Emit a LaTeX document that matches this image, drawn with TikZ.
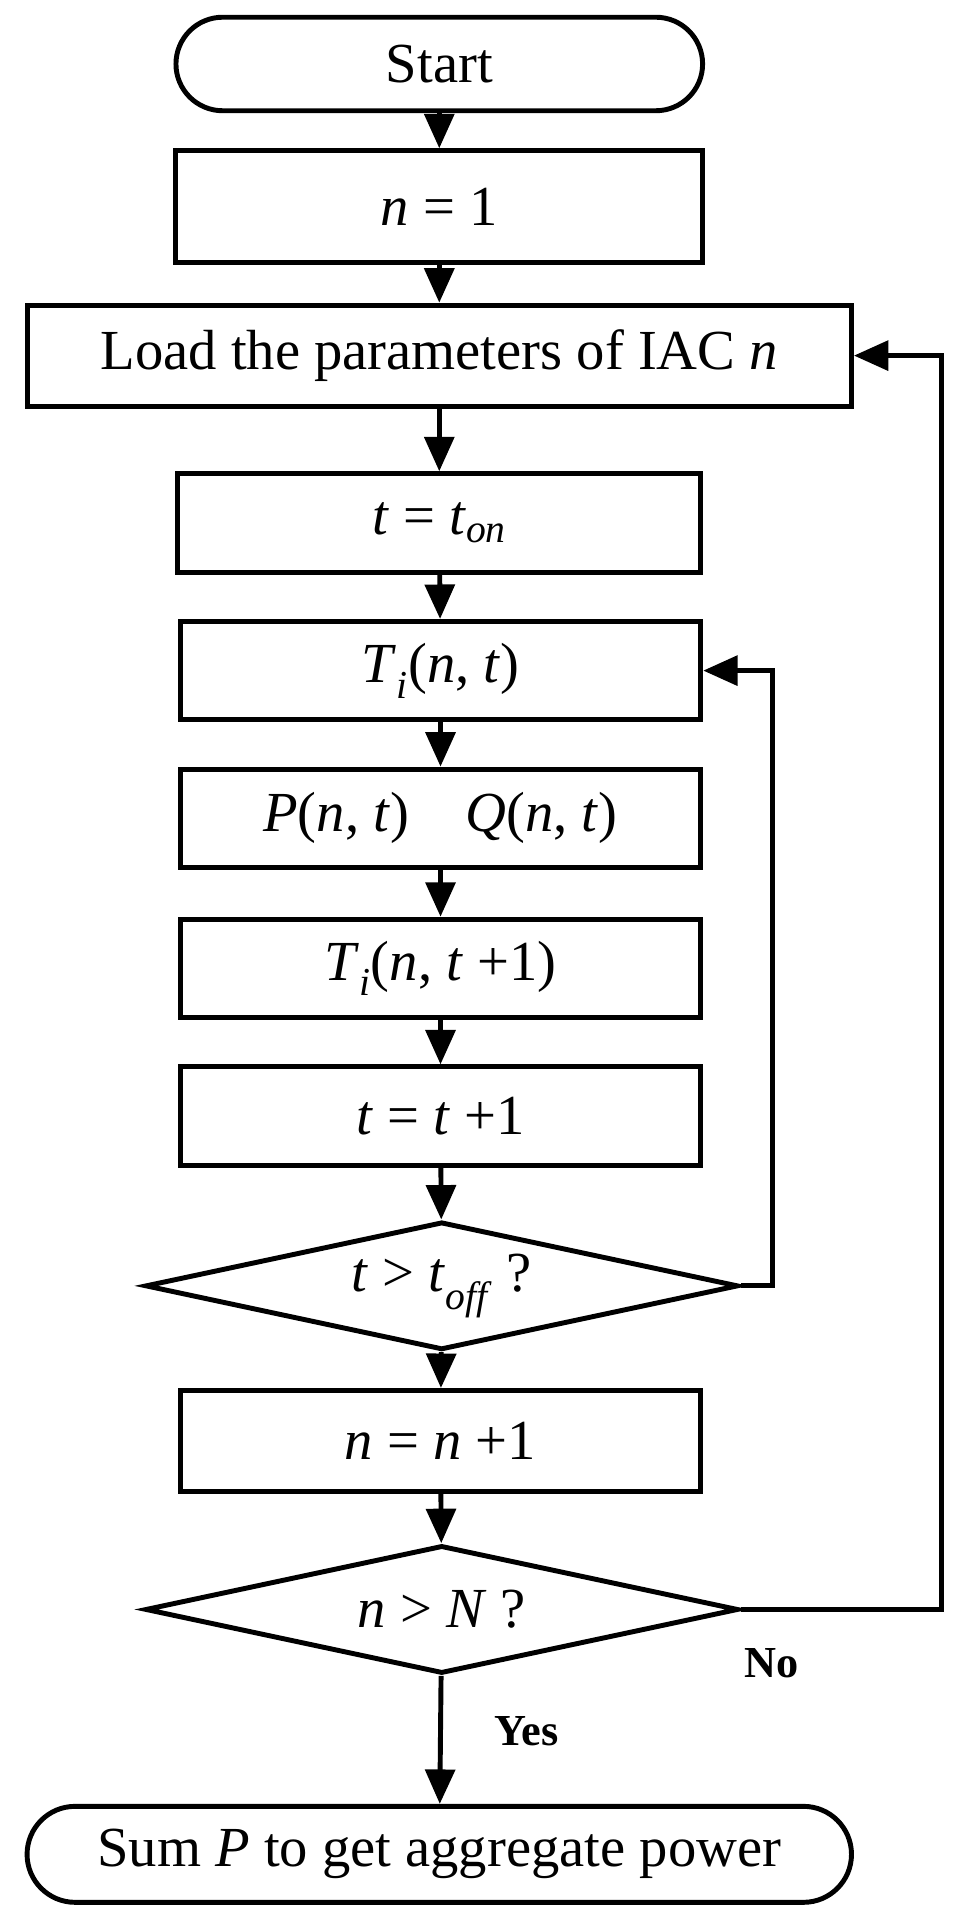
\documentclass[tikz,border=0pt]{standalone}
\usepackage{fontspec}
\setmainfont{Liberation Serif}
\usetikzlibrary{arrows.meta,shapes.geometric}
\newcommand{\mi}[1]{\textit{#1}}
\newcommand{\sbi}[1]{\textsubscript{\textit{#1}}}
\begin{document}
\begin{tikzpicture}[x=1pt,y=-1pt,
  every node/.style={font=\fontsize{46}{50}\selectfont},
  box/.style={draw,line width=4pt,minimum width=423pt,minimum height=80pt,inner sep=0pt},
  wide/.style={box,minimum width=670pt,minimum height=82pt},
  term/.style={draw,line width=4pt,rounded corners=38pt,minimum height=76pt,inner sep=0pt},
  dec/.style={draw,line width=4pt,diamond,aspect=4.6,minimum width=482pt,minimum height=104pt,inner sep=0pt},
  arr/.style={line width=4pt,-{Triangle[length=28pt,width=24pt]}},
  lab/.style={font=\fontsize{36}{40}\selectfont\bfseries}]
\useasboundingbox (0,0) rectangle (781,1562);
\node[term,minimum width=428pt] (start) at (357,52) {Start};
\node[box,minimum height=91pt,minimum width=428pt] (n1) at (357,168) {\mi{n} = 1};
\node[wide] (load) at (357,289) {Load the parameters of IAC \mi{n}};
\node[box,minimum width=425pt] (ton) at (357,425) {\mi{t} = \mi{t}\sbi{on}};
\node[box] (ti) at (358,545) {\mi{T}\sbi{i}(\mi{n}, \mi{t})};
\node[box] (pq) at (358,665) {\mi{P}(\mi{n}, \mi{t})\quad \mi{Q}(\mi{n}, \mi{t})};
\node[box] (ti1) at (358,787) {\mi{T}\sbi{i}(\mi{n}, \mi{t} +1)};
\node[box] (tt1) at (358,907) {\mi{t} = \mi{t} +1};
\node[dec] (d1) at (359,1045) {\mi{t} > \mi{t}\sbi{off} ?};
\node[box,minimum height=82pt] (nn1) at (358,1171) {\mi{n} = \mi{n} +1};
\node[dec] (d2) at (359,1308) {\mi{n} > \mi{N} ?};
\node[term,minimum width=670pt,minimum height=78pt,rounded corners=39pt] (sum) at (357,1507) {Sum \mi{P} to get aggregate power};
\coordinate (c1) at (628,1045);
\coordinate (c2) at (765,1308);
\draw[arr] (start) -- (n1);
\draw[arr] (n1) -- (load);
\draw[arr] (load) -- (ton);
\draw[arr] (ton) -- (ti);
\draw[arr] (ti) -- (pq);
\draw[arr] (pq) -- (ti1);
\draw[arr] (ti1) -- (tt1);
\draw[arr] (tt1) -- (d1);
\draw[arr] (d1) -- (nn1);
\draw[arr] (nn1) -- (d2);
\draw[arr] (d2) -- (sum);
\draw[arr] (d1.east) -- (c1) |- (ti.east);
\draw[arr] (d2.east) -- (c2) |- (load.east);
\node[lab] at (627,1352) {No};
\node[lab] at (428,1407) {Yes};
\end{tikzpicture}
\end{document}
